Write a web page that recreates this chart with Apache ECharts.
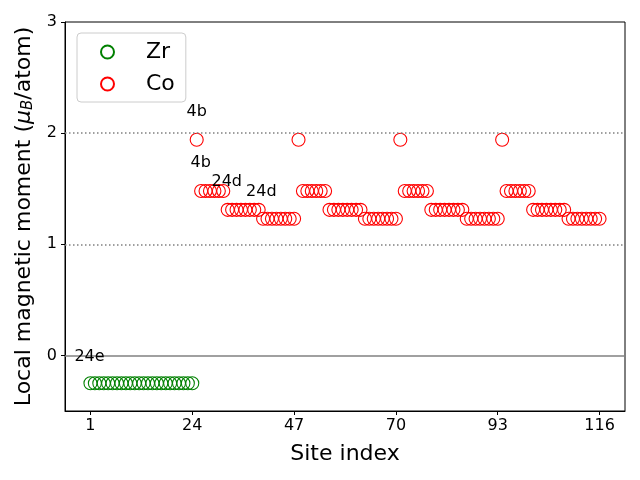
<!DOCTYPE html>
<html>
<head>
<meta charset="utf-8">
<script src="https://cdn.jsdelivr.net/npm/echarts@6/dist/echarts.min.js"></script>
<style>html,body{margin:0;padding:0;background:#fff}#c{width:640px;height:480px}</style>
</head>
<body>
<div id="c"></div>
<script>
const zrSites = [1,2,3,4,5,6,7,8,9,10,11,12,13,14,15,16,17,18,19,20,21,22,23,24];
const zrMoments = [-0.25,-0.25,-0.25,-0.25,-0.25,-0.25,-0.25,-0.25,-0.25,-0.25,-0.25,-0.25,
                   -0.25,-0.25,-0.25,-0.25,-0.25,-0.25,-0.25,-0.25,-0.25,-0.25,-0.25,-0.25];
const coSites = [25,26,27,28,29,30,31,32,33,34,35,36,37,38,39,40,41,42,43,44,45,46,47,
                 48,49,50,51,52,53,54,55,56,57,58,59,60,61,62,63,64,65,66,67,68,69,70,
                 71,72,73,74,75,76,77,78,79,80,81,82,83,84,85,86,87,88,89,90,91,92,93,
                 94,95,96,97,98,99,100,101,102,103,104,105,106,107,108,109,110,111,112,113,114,115,116];
const coMoments = [
  1.94, 1.48,1.48,1.48,1.48,1.48,1.48, 1.31,1.31,1.31,1.31,1.31,1.31,1.31,1.31, 1.23,1.23,1.23,1.23,1.23,1.23,1.23,1.23,
  1.94, 1.48,1.48,1.48,1.48,1.48,1.48, 1.31,1.31,1.31,1.31,1.31,1.31,1.31,1.31, 1.23,1.23,1.23,1.23,1.23,1.23,1.23,1.23,
  1.94, 1.48,1.48,1.48,1.48,1.48,1.48, 1.31,1.31,1.31,1.31,1.31,1.31,1.31,1.31, 1.23,1.23,1.23,1.23,1.23,1.23,1.23,1.23,
  1.94, 1.48,1.48,1.48,1.48,1.48,1.48, 1.31,1.31,1.31,1.31,1.31,1.31,1.31,1.31, 1.23,1.23,1.23,1.23,1.23,1.23,1.23,1.23
];
const xTicks = [1, 24, 47, 70, 93, 116];
const yTicks = [0, 1, 2, 3];
const annotText = ['4b', '4b', '24d', '24d', '24e'];
const annotX = [25.1, 26.0, 31.9, 39.7, 0.9];
const annotY = [2.19, 1.73, 1.56, 1.47, -0.015];

const zrData = zrSites.map((s, i) => [s, zrMoments[i]]);
const coData = coSites.map((s, i) => [s, coMoments[i]]);
const annotData = annotText.map((t, i) => ({ value: [annotX[i], annotY[i]], name: t }));

const chart = echarts.init(document.getElementById('c'), null, { renderer: 'canvas' });
const font = 'DejaVu Sans';
chart.setOption({
  animation: false,
  backgroundColor: '#fff',
  textStyle: { fontFamily: font },
  grid: { left: 65, right: 15, top: 22, bottom: 69, show: true, borderColor: '#000', borderWidth: 1, backgroundColor: 'transparent' },
  legend: {
    orient: 'vertical', left: 77, top: 33,
    padding: [8, 11, 7, 23],
    itemWidth: 13, itemHeight: 13, itemGap: 10,
    borderColor: '#cccccc', borderWidth: 1, borderRadius: 4,
    data: ['Zr', 'Co'],
    textStyle: { fontSize: 22, color: '#000', fontFamily: font, lineHeight: 20, padding: [0, 0, 0, 27] }
  },
  xAxis: {
    type: 'value', min: -4.75, max: 121.75,
    name: 'Site index', nameLocation: 'middle', nameGap: 32,
    nameTextStyle: { fontSize: 22, color: '#000', fontFamily: font },
    axisLine: { show: true, onZero: false, lineStyle: { color: '#000', width: 1 } },
    axisTick: { show: true, inside: false, length: 4, customValues: xTicks, lineStyle: { color: '#000' } },
    axisLabel: { customValues: xTicks, fontSize: 16, color: '#000', margin: 7, fontFamily: font },
    splitLine: { show: false }
  },
  yAxis: {
    type: 'value', min: -0.5, max: 3,
    name: '{a|Local magnetic moment (}{mu|μ}{sub|B}{a|/atom)}',
    nameLocation: 'middle', nameGap: 25, nameRotate: 90,
    nameTextStyle: {
      fontSize: 22, color: '#000', fontFamily: font,
      rich: {
        a: { fontSize: 22, color: '#000', fontFamily: font, lineHeight: 24 },
        mu: { fontSize: 22, color: '#000', fontFamily: font, fontStyle: 'italic', lineHeight: 24 },
        sub: { fontSize: 15, color: '#000', fontFamily: font, fontStyle: 'italic', verticalAlign: 'bottom', lineHeight: 24, padding: [8, 0, 0, 0] }
      }
    },
    axisLine: { show: true, onZero: false, lineStyle: { color: '#000', width: 1 } },
    axisTick: { show: true, inside: false, length: 4, customValues: yTicks, lineStyle: { color: '#000' } },
    axisLabel: { customValues: yTicks, fontSize: 16, color: '#000', margin: 8, fontFamily: font },
    splitLine: { show: false }
  },
  series: [
    {
      name: 'Zr', type: 'scatter', data: zrData, symbol: 'circle', symbolSize: 13,
      itemStyle: { color: 'rgba(0,0,0,0)', borderColor: '#008000', borderWidth: 1.1, opacity: 1 },
      markLine: {
        silent: true, symbol: ['none', 'none'], label: { show: false }, animation: false,
        data: [
          { yAxis: 0, lineStyle: { color: '#808080', width: 1.5, type: 'solid' } },
          { yAxis: 1, lineStyle: { color: '#808080', width: 1.5, type: [1.5, 2.5] } },
          { yAxis: 2, lineStyle: { color: '#808080', width: 1.5, type: [1.5, 2.5] } }
        ]
      },
      z: 3
    },
    {
      name: 'Co', type: 'scatter', data: coData, symbol: 'circle', symbolSize: 13,
      itemStyle: { color: 'rgba(0,0,0,0)', borderColor: '#ff0000', borderWidth: 1.1, opacity: 1 },
      z: 3
    },
    {
      name: 'annot', type: 'scatter', data: annotData, symbolSize: 1, silent: true,
      itemStyle: { color: '#000', opacity: 0 },
      label: {
        show: true, position: [0, 0], align: 'center', verticalAlign: 'middle',
        formatter: p => p.name, fontSize: 16, color: '#000000', opacity: 1,
        textBorderWidth: 0, fontFamily: font
      },
      emphasis: { disabled: true },
      z: 5
    }
  ]
});
</script>
</body>
</html>
